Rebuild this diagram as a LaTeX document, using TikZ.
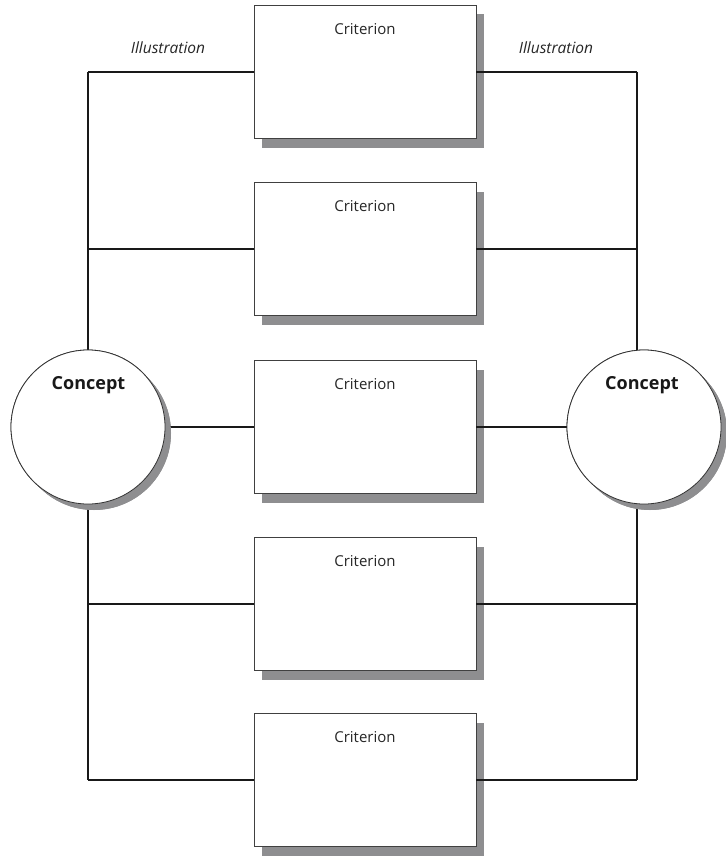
\documentclass[tikz,border=0pt]{standalone}
\usepackage{fontspec}
\setmainfont{Open Sans}
\usetikzlibrary{shadows}
\definecolor{shade}{HTML}{8E8E90}
\begin{document}
\begin{tikzpicture}[x=1pt,y=-1pt,
  crit/.style={draw=black!75,line width=0.8pt,fill=white,minimum width=222pt,minimum height=133pt,inner sep=0pt,
     drop shadow={shadow xshift=8pt,shadow yshift=-9pt,fill=shade,opacity=1}},
  concept/.style={circle,draw=black!80,line width=0.8pt,fill=white,minimum size=154pt,inner sep=0pt,
     drop shadow={shadow xshift=6pt,shadow yshift=-6pt,fill=shade,opacity=1}},
  wire/.style={line width=2.3pt,black!90},
  crittext/.style={font=\fontsize{15}{17}\selectfont,text=black!85},
  conctext/.style={font=\bfseries\fontsize{18}{20}\selectfont,text=black!90},
  illtext/.style={font=\itshape\fontsize{15.5}{17}\selectfont,text=black!85}]
\useasboundingbox (0,0) rectangle (725,856);
% wire corners
\coordinate (L1) at (88,72);   \coordinate (R1) at (637,72);
\coordinate (L2) at (88,249);  \coordinate (R2) at (637,249);
\coordinate (L4) at (88,604);  \coordinate (R4) at (637,604);
\coordinate (L5) at (88,780);  \coordinate (R5) at (637,780);
\draw[wire] (L1) -- (L5);
\draw[wire] (R1) -- (R5);
% boxes
\foreach \i/\y in {1/72,2/249,3/427,4/604,5/780}{
  \node[crit] (c\i) at (365,\y) {};
  \node[crittext] (t\i) at (365,\y-43) {Criterion};
}
% circles
\node[concept] (cl) at (88,427) {};
\node[concept] (cr) at (644,427) {};
% connectors
\draw[wire] (L1) -- (c1.west);  \draw[wire] (c1.east) -- (R1);
\draw[wire] (L2) -- (c2.west);  \draw[wire] (c2.east) -- (R2);
\draw[wire] (cl.east) -- (c3.west); \draw[wire] (c3.east) -- (cr.west);
\draw[wire] (L4) -- (c4.west);  \draw[wire] (c4.east) -- (R4);
\draw[wire] (L5) -- (c5.west);  \draw[wire] (c5.east) -- (R5);
% circles over the vertical wires
\node[concept] at (88,427) {};
\node[concept] at (644,427) {};
\node[conctext] (ctl) at (88.5,385) {Concept};
\node[conctext] (ctr) at (642,385) {Concept};
\node[illtext] (il) at (168,48) {Illustration};
\node[illtext] (ir) at (556,48) {Illustration};
\end{tikzpicture}
\end{document}
